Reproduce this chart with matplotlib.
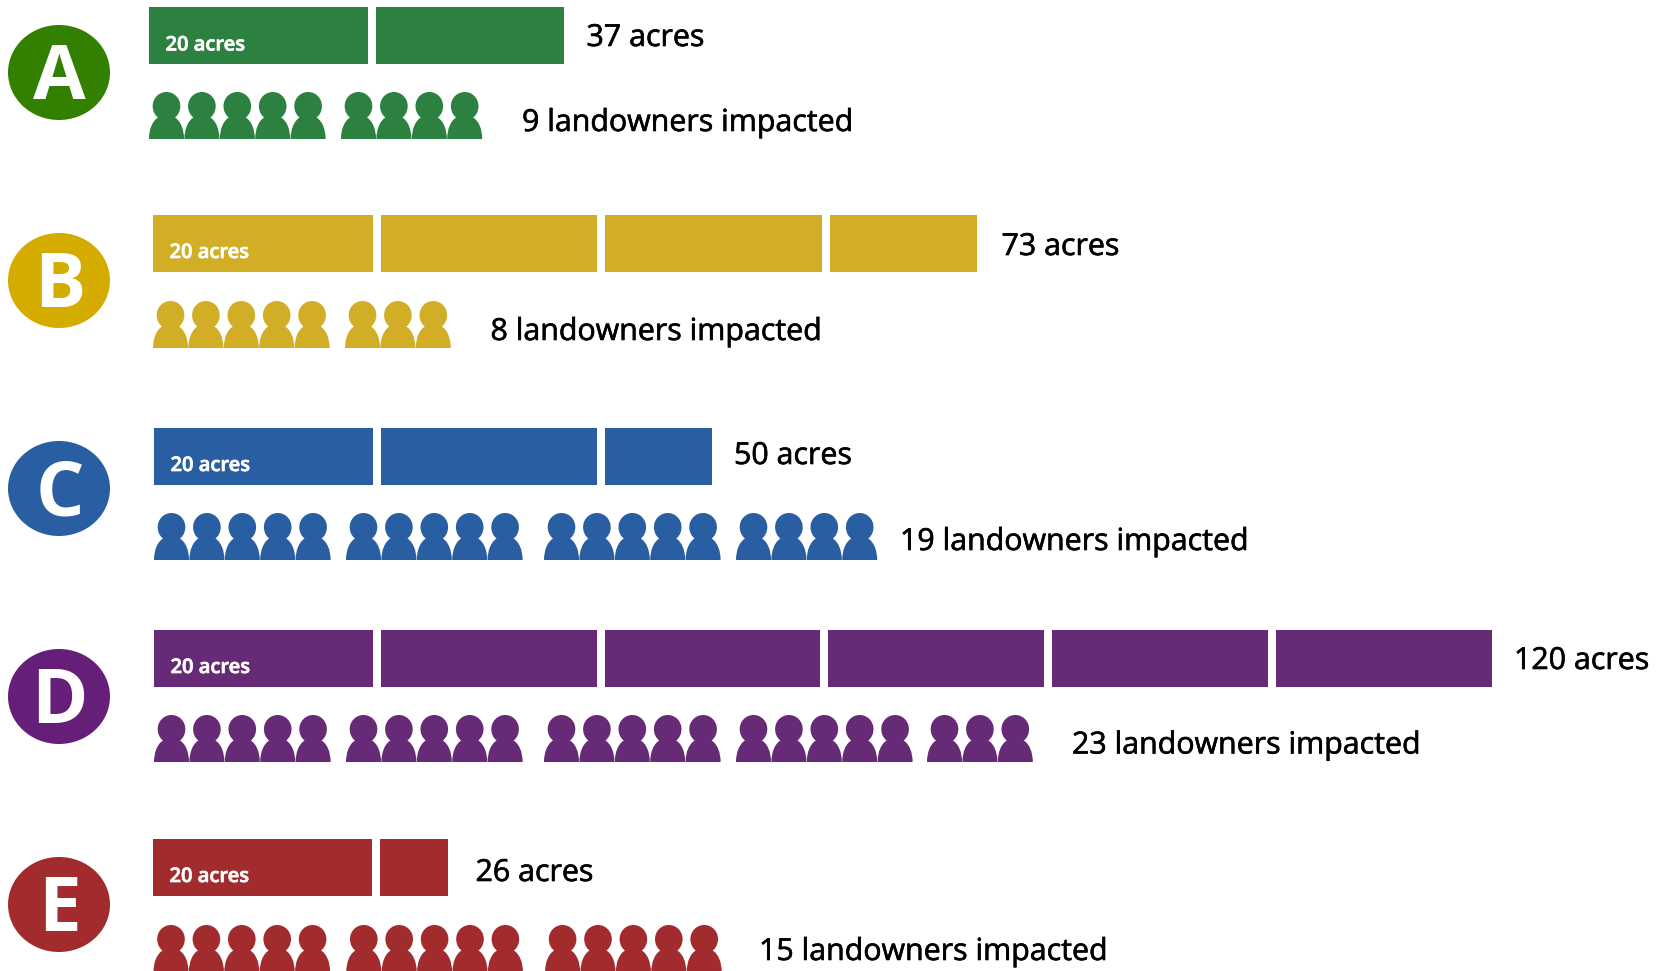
import matplotlib
matplotlib.use("Agg")
import matplotlib.pyplot as plt
import matplotlib.patheffects as pe
from matplotlib.patches import Ellipse, PathPatch
from matplotlib.path import Path
from matplotlib.transforms import Affine2D

# ---- data ----
letters = ["A", "B", "C", "D", "E"]
acres = [37, 73, 50, 120, 26]
landowners = [9, 8, 19, 23, 15]
acre_labels = ["37 acres", "73 acres", "50 acres", "120 acres", "26 acres"]
owner_labels = ["9 landowners impacted", "8 landowners impacted", "19 landowners impacted",
                "23 landowners impacted", "15 landowners impacted"]
bar_colors = ["#2C8140", "#D2AE27", "#295EA2", "#662A76", "#A22B2D"]
circle_colors = ["#338000", "#D4AC00", "#295EA2", "#661F78", "#A22B2D"]
acre_unit = 20
group_size = 5

# ---- layout (pixels) ----
bar_x = [149, 153, 154, 154, 153]
bar_top = [7.5, 215, 428, 630, 839]
bar_h = 57
full_w = [216, 216.5, 216, 215.8, 216]
partial_w = [188, 147, 107, 0, 68]
people_top = [92, 301, 513, 715, 925]
circle_cy = [72.5, 280.5, 488.5, 696.5, 904.5]
acre_lbl = [(586.5, 46), (1001.5, 255), (734, 464), (1514, 669), (475.5, 881)]
owner_lbl = [(522, 131), (490.5, 340), (900, 550), (1072, 753.5), (759, 960)]
group_steps = [192, 198, 192, 191]
person_step = 35.4

fig = plt.figure(figsize=(16.6, 9.71), dpi=100, facecolor="white")
ax = fig.add_axes([0, 0, 1, 1])
ax.set_xlim(0, 1660)
ax.set_ylim(971, 0)
ax.axis("off")

FONT = "Open Sans"
black_fx = [pe.withStroke(linewidth=0.45, foreground="black")]
white_fx = [pe.withStroke(linewidth=0.5, foreground="white")]

# person glyph: 35 wide, 47 tall, origin at its top-left
verts = [(3.7, 14), (3.7, 6.3), (9.8, 0), (17.5, 0), (25.2, 0), (31.3, 6.3), (31.3, 14),
         (31.3, 19), (29.3, 23), (26, 25.5), (31.5, 29), (35, 37), (35, 47),
         (0, 47), (0, 37), (3.5, 29), (9, 25.5), (5.7, 23), (3.7, 19), (3.7, 14), (3.7, 14)]
codes = [Path.MOVETO] + [Path.CURVE4] * 6 + [Path.CURVE4] * 3 + [Path.CURVE4] * 3 + \
        [Path.LINETO] + [Path.CURVE4] * 3 + [Path.CURVE4] * 3 + [Path.CLOSEPOLY]
person = Path(verts, codes)

for i, letter in enumerate(letters):
    col = bar_colors[i]
    ax.add_patch(Ellipse((59, circle_cy[i]), 102, 95, fc=circle_colors[i], ec="none"))
    ax.text(59.5, circle_cy[i] + 26.5, letter, color="white", fontsize=55, fontweight="bold",
            family=FONT, ha="center", va="baseline")

    # acreage bar in 20-acre blocks
    x = bar_x[i]
    remaining = acres[i]
    first = True
    while remaining > 0:
        seg = min(remaining, acre_unit)
        w = full_w[i] if seg == acre_unit else partial_w[i]
        if first:
            w += 3
        ax.bar(x, bar_h, width=w, bottom=bar_top[i], align="edge", color=col, linewidth=0)
        x += w + 8
        remaining -= seg
        first = False
    ax.text(bar_x[i] + 16.5, bar_top[i] + 43, f"{acre_unit} acres", color="white", fontsize=14.5,
            fontweight="semibold", family=FONT, ha="left", va="baseline", path_effects=white_fx)
    ax.text(*acre_lbl[i], acre_labels[i], color="black", fontsize=21.85, family=FONT,
            ha="left", va="baseline", path_effects=black_fx)

    # landowner icons in groups of five
    gx = bar_x[i] + (0.5 if i == 4 else 0)
    for n in range(landowners[i]):
        g, k = divmod(n, group_size)
        px = gx + sum(group_steps[:g]) + k * person_step + (g * 0.8 if i == 4 else 0)
        ax.add_patch(PathPatch(person, fc=col, ec="none",
                               transform=Affine2D().translate(px, people_top[i]) + ax.transData))
    ax.text(*owner_lbl[i], owner_labels[i], color="black", fontsize=21.85, family=FONT,
            ha="left", va="baseline", path_effects=black_fx)

fig.savefig("out.png", dpi=100, facecolor="white")
